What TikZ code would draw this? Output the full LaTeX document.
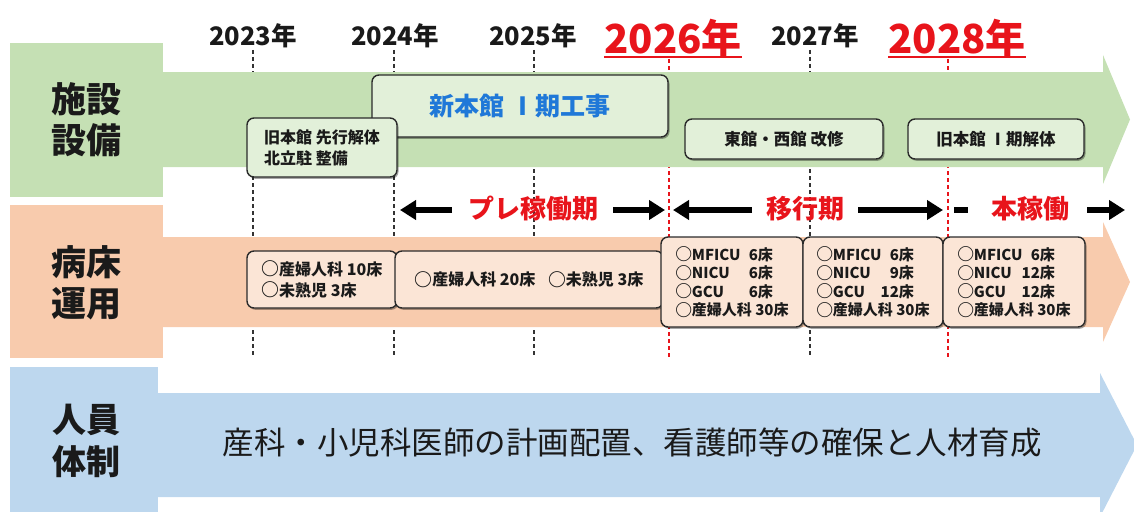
\documentclass[tikz,border=0pt]{standalone}
\usepackage{fontspec}
\usepackage{graphicx}
\setmainfont{Noto Sans CJK JP}
\usetikzlibrary{arrows.meta,shadows}
\definecolor{bandG}{HTML}{C5E0B4}
\definecolor{bandS}{HTML}{F8CBAD}
\definecolor{bandB}{HTML}{BDD7EE}
\definecolor{boxG}{HTML}{E2F0D9}
\definecolor{boxS}{HTML}{FBE5D6}
\definecolor{redT}{HTML}{E8141B}
\definecolor{blueT}{HTML}{1F78D8}
\definecolor{inkT}{HTML}{1A1A1A}
\definecolor{edgeC}{HTML}{2B2B2B}
\newcommand{\maru}{\makebox[1.1em][l]{\raisebox{-0.03em}{\scalebox{1.12}{○}}}}
\newcommand{\bedrow}[2]{\makebox[5.5em][s]{\maru#1\hfill#2}床}
\begin{document}
\begin{tikzpicture}[x=1pt,y=-1pt,
  box/.style={draw=edgeC, line width=1.4pt, rounded corners=7pt, inner sep=0pt,
    text=inkT, align=left,
    drop shadow={shadow xshift=1.5pt, shadow yshift=-1.8pt, opacity=0.35, fill=black}},
  gbox/.style={box, fill=boxG},
  sbox/.style={box, fill=boxS},
  smalltxt/.style={font=\fontsize{16}{21}\selectfont\bfseries},
  bedtxt/.style={font=\fontsize{15}{18.5}\selectfont\bfseries},
  lbl/.style={font=\fontsize{35}{41}\selectfont\bfseries, text=inkT, align=center},
  yearlbl/.style={font=\fontsize{25.5}{27}\selectfont\bfseries, text=inkT, anchor=base, inner sep=0pt},
  bigyear/.style={font=\fontsize{40}{42}\selectfont\bfseries, text=redT, anchor=base, inner sep=0pt},
  vline/.style={draw=black!80, line width=1.2pt, dash pattern=on 4pt off 3pt},
  rline/.style={draw=redT, line width=1.4pt, dash pattern=on 4pt off 3pt},
  period/.style={font=\fontsize{26}{28}\selectfont\bfseries, text=redT},
  parr/.style={line width=6pt, -{Triangle[length=16pt,width=19pt]}},
  pbar/.style={line width=6pt}
]
\useasboundingbox (0,0) rectangle (1134,511);

% year labels
\node[yearlbl] (y23) at (253,46) {2023年};
\node[yearlbl] (y24) at (395,46) {2024年};
\node[yearlbl] (y25) at (533,46) {2025年};
\node[bigyear] (y26) at (673,53) {2026年};
\node[yearlbl] (y27) at (815,46) {2027年};
\node[bigyear] (y28) at (957,53) {2028年};
\draw[redT, line width=2.2pt] ([yshift=-4pt]y26.base west) -- ([yshift=-4pt]y26.base east);
\draw[redT, line width=2.2pt] ([yshift=-4pt]y28.base west) -- ([yshift=-4pt]y28.base east);

% tick coordinates and dashed lines
\coordinate (t23) at (253,50);  \coordinate (b23) at (253,357);
\coordinate (t24) at (394,50);  \coordinate (b24) at (394,357);
\coordinate (t25) at (534,50);  \coordinate (b25) at (534,357);
\coordinate (t26) at (669,59);  \coordinate (b26) at (669,357);
\coordinate (t27) at (810,50);  \coordinate (b27) at (810,357);
\coordinate (t28) at (948,59);  \coordinate (b28) at (948,357);
\draw[vline] (t23) -- (b23);
\draw[vline] (t24) -- (b24);
\draw[vline] (t25) -- (b25);
\draw[vline] (t27) -- (b27);
\draw[rline] (t26) -- (b26);
\draw[rline] (t28) -- (b28);

% bands
\fill[bandG] (10,43) rectangle (163,197);
\fill[bandG] (163,72) -- (1103,72) -- (1103,55) -- (1130,119.5) -- (1103,184) -- (1103,167) -- (163,167) -- cycle;
\fill[bandS] (10,205) rectangle (163,358);
\fill[bandS] (163,237) -- (1103,237) -- (1103,222) -- (1130,282) -- (1103,342) -- (1103,327) -- (163,327) -- cycle;
\fill[bandB] (10,367) rectangle (158,515);
\fill[bandB] (158,393) -- (1100,393) -- (1100,373) -- (1137,445) -- (1100,517) -- (1100,497) -- (158,497) -- cycle;

% row labels
\node[lbl] (lab1) at (86,120) {施設\\設備};
\node[lbl] (lab2) at (86,283) {病床\\運用};
\node[lbl, font=\fontsize{34}{42}\selectfont\bfseries] (lab3) at (86,441) {人員\\体制};

% facility boxes
\node[gbox, minimum width=296pt, minimum height=62pt, align=center,
  font=\fontsize{25}{28}\selectfont\bfseries, text=blueT] (kouji) at (520,106) {新本館 Ⅰ期工事};
\node[gbox, smalltxt, minimum width=150pt, minimum height=59pt] (sakko) at (322,147.5) {旧本館 先行解体\\北立駐 整備};
\node[gbox, font=\fontsize{16.5}{20}\selectfont\bfseries, minimum width=198pt, minimum height=40pt, align=center] (tokan) at (784,139) {東館・西館 改修};
\node[gbox, font=\fontsize{16.5}{20}\selectfont\bfseries, minimum width=176pt, minimum height=40pt, align=center] (kyuhon) at (996,139) {旧本館 Ⅰ期解体};

% periods
\node[period] (pre) at (533,209) {プレ稼働期};
\coordinate (preA) at (452,210); \coordinate (preB) at (400,210);
\coordinate (preC) at (613,210); \coordinate (preD) at (665,210);
\draw[parr] (preA) -- (preB);
\draw[parr] (preC) -- (preD);
\node[period] (ikou) at (805,209) {移行期};
\coordinate (ikA) at (752,210); \coordinate (ikB) at (673,210);
\coordinate (ikC) at (858,210); \coordinate (ikD) at (943,210);
\draw[parr] (ikA) -- (ikB);
\draw[parr] (ikC) -- (ikD);
\node[period] (hon) at (1030,209) {本稼働};
\coordinate (hoA) at (954,210); \coordinate (hoB) at (968,210);
\coordinate (hoC) at (1087,210); \coordinate (hoD) at (1125,210);
\draw[pbar] (hoA) -- (hoB);
\draw[parr] (hoC) -- (hoD);

% bed boxes
\node[sbox, smalltxt, minimum width=150pt, minimum height=57pt] (bed1) at (322,279.5) {\maru 産婦人科 10床\\\maru 未熟児 3床};
\node[sbox, smalltxt, minimum width=268pt, minimum height=57pt, align=center] (bed2) at (529,279.5) {\maru 産婦人科 20床\hspace{0.8em}\maru 未熟児 3床};
\node[sbox, bedtxt, minimum width=142pt, minimum height=90pt] (bed3) at (732,282) {\bedrow{MFICU}{6}\\\bedrow{NICU}{6}\\\bedrow{GCU}{6}\\\maru 産婦人科 30床};
\node[sbox, bedtxt, minimum width=140pt, minimum height=90pt] (bed4) at (873,282) {\bedrow{MFICU}{6}\\\bedrow{NICU}{9}\\\bedrow{GCU}{12}\\\maru 産婦人科 30床};
\node[sbox, bedtxt, minimum width=142pt, minimum height=90pt] (bed5) at (1014,282) {\bedrow{MFICU}{6}\\\bedrow{NICU}{12}\\\bedrow{GCU}{12}\\\maru 産婦人科 30床};

% staff
\node[font=\fontsize{31.5}{36}\selectfont, text=inkT] (staff) at (632,443) {産科・小児科医師の計画配置、看護師等の確保と人材育成};
\end{tikzpicture}
\end{document}
